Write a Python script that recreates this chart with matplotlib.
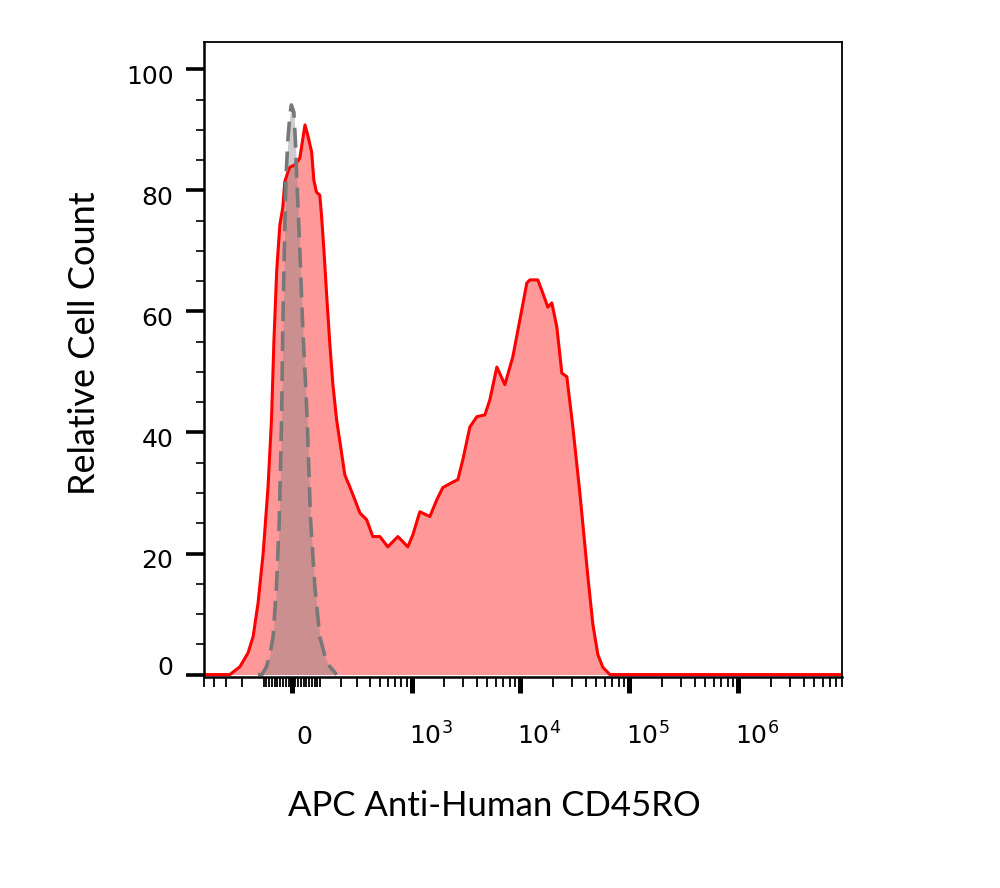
import numpy as np
import matplotlib
matplotlib.use('Agg')
import matplotlib.pyplot as plt
from matplotlib.ticker import FixedLocator, MultipleLocator
from matplotlib.transforms import ScaledTranslation

plt.rcParams['font.family'] = ['DejaVu Sans']
plt.rcParams['mathtext.default'] = 'regular'

# biexponential-like (arcsinh) display of the APC channel
C = 160.0


def fwd(x):
    return np.arcsinh(np.asarray(x, dtype=float) / C)


def inv(y):
    return C * np.sinh(np.asarray(y, dtype=float))


# stained sample (red)
apc_x = [-500, -303, -275, -213, -170, -146, -124, -103, -84, -71, -62, -52, -41, -31,
         -24, -13.5, -6.8, 10.2, 27, 45, 55, 69, 77, 87, 100, 107, 117, 130, 143, 157,
         175, 201, 219, 249, 282, 318, 372, 429, 502, 598, 744, 922, 1027, 1192, 1475,
         1712, 1944, 2403, 2672, 2971, 3445, 3995, 4733, 5261, 6099, 7223, 8552, 9920,
         11500, 12260, 14510, 16130, 17930, 19510, 21690, 24100, 26790, 30410, 35270,
         41780, 46430, 51610, 57360, 66530, 82160, 9e6]
apc_y = [0, 0, 0, 1.3, 3.6, 6.3, 11.9, 20.1, 31.0, 42.1, 55.3, 66.8, 74.3, 77.1,
         81.4, 83.0, 83.8, 84.2, 85.3, 90.8, 89.1, 86.3, 81.7, 79.7, 79.2, 75.9, 70.1,
         61.9, 54.5, 47.9, 42.1, 36.6, 33.0, 31.0, 28.9, 26.7, 25.6, 22.8, 22.8, 21.1,
         22.8, 21.1, 23.1, 26.9, 26.1, 28.9, 30.9, 31.8, 32.2, 35.5, 40.9, 42.6, 42.9,
         45.4, 50.8, 47.9, 52.5, 58.6, 64.7, 65.2, 65.2, 63.0, 60.7, 61.4, 57.4, 49.8,
         49.2, 40.9, 30.0, 16.2, 8.3, 3.3, 1.2, 0, 0, 0]

# isotype control (grey, dashed)
iso_x = [-125, -108, -90, -77, -65, -53, -43, -35, -31, -25.5, -20.3, -13.5, -6.8,
         -1.7, 6.8, 11.8, 16.9, 27.2, 37.5, 46.3, 52.7, 64.9, 80.9, 100, 125, 143, 175]
iso_y = [0, 0, 1.3, 3.3, 6.3, 14.5, 25.6, 42.1, 56.9, 70.1, 81.7, 88.3, 92.4,
         94.1, 92.9, 88.3, 81.7, 70.1, 56.9, 48.7, 42.1, 25.6, 14.5, 6.3, 2.5, 1.3, 0]

major_x = [0, 1e3, 1e4, 1e5, 1e6]
major_labels = ['0', r'$10^{3}$', r'$10^{4}$', r'$10^{5}$', r'$10^{6}$']
minor_x = ([-500, -400, -300, -200] + list(range(-100, 101, 10))
           + [k * 100 for k in range(2, 10)]
           + [k * 10 ** d for d in range(3, 7) for k in range(2, 10)])

fig = plt.figure(figsize=(10, 8.88), dpi=100)
ax = fig.add_axes([0.204, 1 - 677 / 888, 0.638, 635 / 888])
ax.set_xscale('function', functions=(fwd, inv))

ax.fill_between(apc_x, apc_y, color='#ff0000', alpha=0.4, lw=0)
ax.fill_between(iso_x, iso_y, color='#808080', alpha=0.4, lw=0)
ax.plot(apc_x, apc_y, color='#ff0000', lw=2.2)
ax.plot(iso_x, iso_y, color='#787878', lw=2.6, ls=(0, (5.5, 2.8)))

ax.set_xlim(-500, 9e6)
ax.set_ylim(-0.4, 104.5)

ax.xaxis.set_major_locator(FixedLocator(major_x))
ax.xaxis.set_minor_locator(FixedLocator(minor_x))
ax.set_xticklabels(major_labels)
ax.yaxis.set_major_locator(FixedLocator([0, 20, 40, 60, 80, 100]))
ax.yaxis.set_minor_locator(MultipleLocator(5))

ax.tick_params(axis='y', which='major', direction='out', length=13, width=2.6,
               pad=9, labelsize=18)
ax.tick_params(axis='y', which='minor', direction='out', length=5.5, width=1.2)
ax.tick_params(axis='x', which='major', direction='out', length=11.5, width=3.6,
               pad=37, labelsize=18)
ax.tick_params(axis='x', which='minor', direction='out', length=7, width=1.3)

for lbl in ax.get_xticklabels():
    lbl.set_va('baseline')
    lbl.set_ha('left')
    dx = 5 if lbl.get_text() == '0' else -3
    lbl.set_transform(lbl.get_transform() + ScaledTranslation(dx / 100, 0, fig.dpi_scale_trans))

for lbl in ax.get_yticklabels():
    if lbl.get_text() == '0':
        lbl.set_va('bottom')
    lbl.set_transform(lbl.get_transform() + ScaledTranslation(0, -5 / 100, fig.dpi_scale_trans))

ax.spines['left'].set_linewidth(1.8)
ax.spines['bottom'].set_linewidth(1.8)
ax.spines['top'].set_linewidth(1.3)
ax.spines['right'].set_linewidth(1.3)

ax.set_xlabel('APC Anti-Human CD45RO', fontsize=25, family='Lato', va='center')
ax.set_ylabel('Relative Cell Count', fontsize=26, family='Lato', va='center')
ax.xaxis.set_label_coords(0.4545, -0.203)
ax.yaxis.set_label_coords(-0.188, 0.526)

fig.savefig('out.png', dpi=100)
